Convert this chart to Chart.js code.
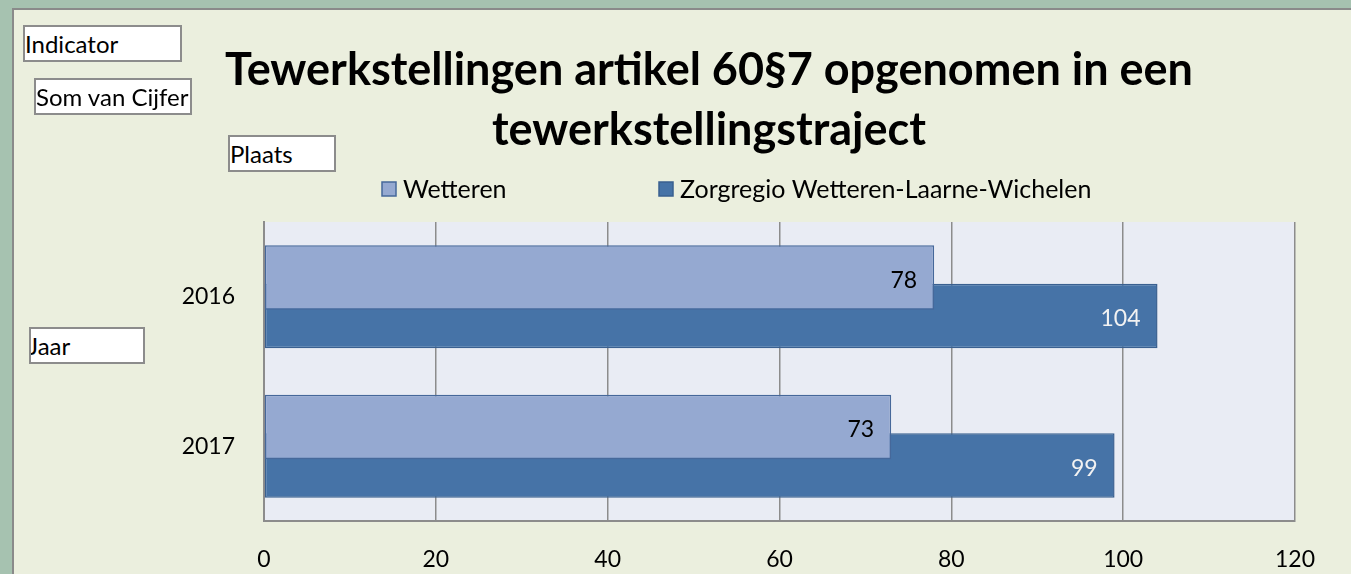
<!DOCTYPE html>
<html>
<head>
<meta charset="utf-8">
<script src="https://cdn.jsdelivr.net/npm/chart.js@4.4.0/dist/chart.umd.min.js"></script>
<style>
    html, body {
        margin: 0;
        padding: 0;
        width: 1351px;
        height: 574px;
        overflow: hidden;
        background: #a6c2b0;
        font-family: Lato, "Liberation Sans", sans-serif;
    }
    .panel {
        position: absolute;
        left: 12px;
        top: 8px;
        width: 1360px;
        height: 580px;
        background: #ebefde;
        border: 2px solid #8a8a8a;
    }
    #chart {
        position: absolute;
        left: 0;
        top: 0;
    }
    .field {
        position: absolute;
        background: #ffffff;
        border: 2px solid #8c8c8c;
        box-sizing: border-box;
        font-size: 24px;
        line-height: 33px;
        padding-left: 0;
        color: #000;
        overflow: hidden;
        white-space: nowrap;
        z-index: 2;
    }
</style>
</head>
<body>
<div class="panel"></div>
<canvas id="chart" width="1351" height="574"></canvas>

<div class="field" style="left:23px;top:25px;width:159px;height:37px;">Indicator</div>
<div class="field" style="left:34px;top:78px;width:158px;height:37px;">Som van Cijfer</div>
<div class="field" style="left:228px;top:135px;width:108px;height:37px;">Plaats</div>
<div class="field" style="left:29px;top:327px;width:116px;height:37px;text-indent:-3px;">Jaar</div>

<script>
// ====================
// DATA
// ====================
const titleLines = ["Tewerkstellingen artikel 60§7 opgenomen in een", "tewerkstellingstraject"];
const years = ["2016", "2017"];
const wetteren = [78, 73];
const zorgregio = [104, 99];
const seriesNames = ["Wetteren", "Zorgregio Wetteren-Laarne-Wichelen"];
const xTicks = [0, 20, 40, 60, 80, 100, 120];

const lightBlue = "#95a9d1";
const darkBlue = "#4673a7";
const gridGrey = "#8c8c8c";

Chart.defaults.font.family = "Lato, 'Liberation Sans', sans-serif";
Chart.defaults.color = "#000";

// plot background, title, legend and value labels
const decorations = {
    id: "decorations",
    beforeDraw(chart) {
        const { ctx, chartArea } = chart;
        ctx.save();
        ctx.fillStyle = "#e9ecf4";
        ctx.fillRect(chartArea.left, chartArea.top, chartArea.right - chartArea.left, chartArea.bottom - chartArea.top);
        ctx.restore();
    },
    afterDraw(chart) {
        const ctx = chart.ctx;
        ctx.save();

        // title
        ctx.fillStyle = "#000";
        ctx.font = "bold 45px Lato, 'Liberation Sans', sans-serif";
        ctx.textAlign = "center";
        ctx.textBaseline = "alphabetic";
        ctx.fillText(titleLines[0], 709, 85);
        ctx.fillText(titleLines[1], 709, 145);

        // legend
        const legendX = [382, 659];
        ctx.font = "25px Lato, 'Liberation Sans', sans-serif";
        ctx.textAlign = "left";
        ctx.textBaseline = "middle";
        chart.data.datasets.forEach((ds, i) => {
            ctx.fillStyle = ds.backgroundColor;
            ctx.fillRect(legendX[i], 182, 14, 14);
            ctx.strokeStyle = ds.borderColor;
            ctx.lineWidth = 1.5;
            ctx.strokeRect(legendX[i], 182, 14, 14);
            ctx.fillStyle = "#000";
            ctx.fillText(ds.label, legendX[i] + 21, 190);
        });

        // value labels at the inside end of each bar
        ctx.font = "23px Lato, 'Liberation Sans', sans-serif";
        ctx.textAlign = "right";
        const labelColors = ["#000000", "#f2f2f2"];
        chart.data.datasets.forEach((ds, i) => {
            const meta = chart.getDatasetMeta(i);
            meta.data.forEach((bar, j) => {
                ctx.fillStyle = labelColors[i];
                ctx.fillText(String(ds.data[j]), bar.x - 17, bar.y + 3);
            });
        });
        ctx.restore();
    }
};

new Chart(document.getElementById("chart"), {
    type: "bar",
    data: {
        labels: years,
        datasets: [
            {
                label: seriesNames[0],
                data: wetteren,
                backgroundColor: lightBlue,
                borderColor: "#46689a",
                borderWidth: 1.5,
                borderSkipped: false,
                categoryPercentage: 0.515,
                barPercentage: 1.675
            },
            {
                label: seriesNames[1],
                data: zorgregio,
                backgroundColor: darkBlue,
                borderColor: "#3a6090",
                borderWidth: 1.5,
                borderSkipped: false,
                categoryPercentage: 0.515,
                barPercentage: 1.675
            }
        ]
    },
    options: {
        indexAxis: "y",
        responsive: false,
        animation: false,
        layout: {
            padding: { left: 0, right: 56, top: 222, bottom: 0 }
        },
        plugins: {
            legend: { display: false },
            title: { display: false },
            tooltip: { enabled: false }
        },
        scales: {
            x: {
                min: 0,
                max: 120,
                afterBuildTicks(scale) {
                    scale.ticks = xTicks.map(v => ({ value: v }));
                },
                afterFit(scale) {
                    scale.height = 53;
                },
                grid: {
                    color: gridGrey,
                    lineWidth: 1.5,
                    drawTicks: false
                },
                border: {
                    display: true,
                    color: gridGrey,
                    width: 2
                },
                ticks: {
                    padding: 25,
                    font: { size: 23 }
                }
            },
            y: {
                afterFit(scale) {
                    scale.width = 264;
                },
                grid: {
                    display: false,
                    drawTicks: false
                },
                border: {
                    display: true,
                    color: gridGrey,
                    width: 2
                },
                ticks: {
                    padding: 29,
                    font: { size: 23 }
                }
            }
        }
    },
    plugins: [decorations]
});
</script>
</body>
</html>
